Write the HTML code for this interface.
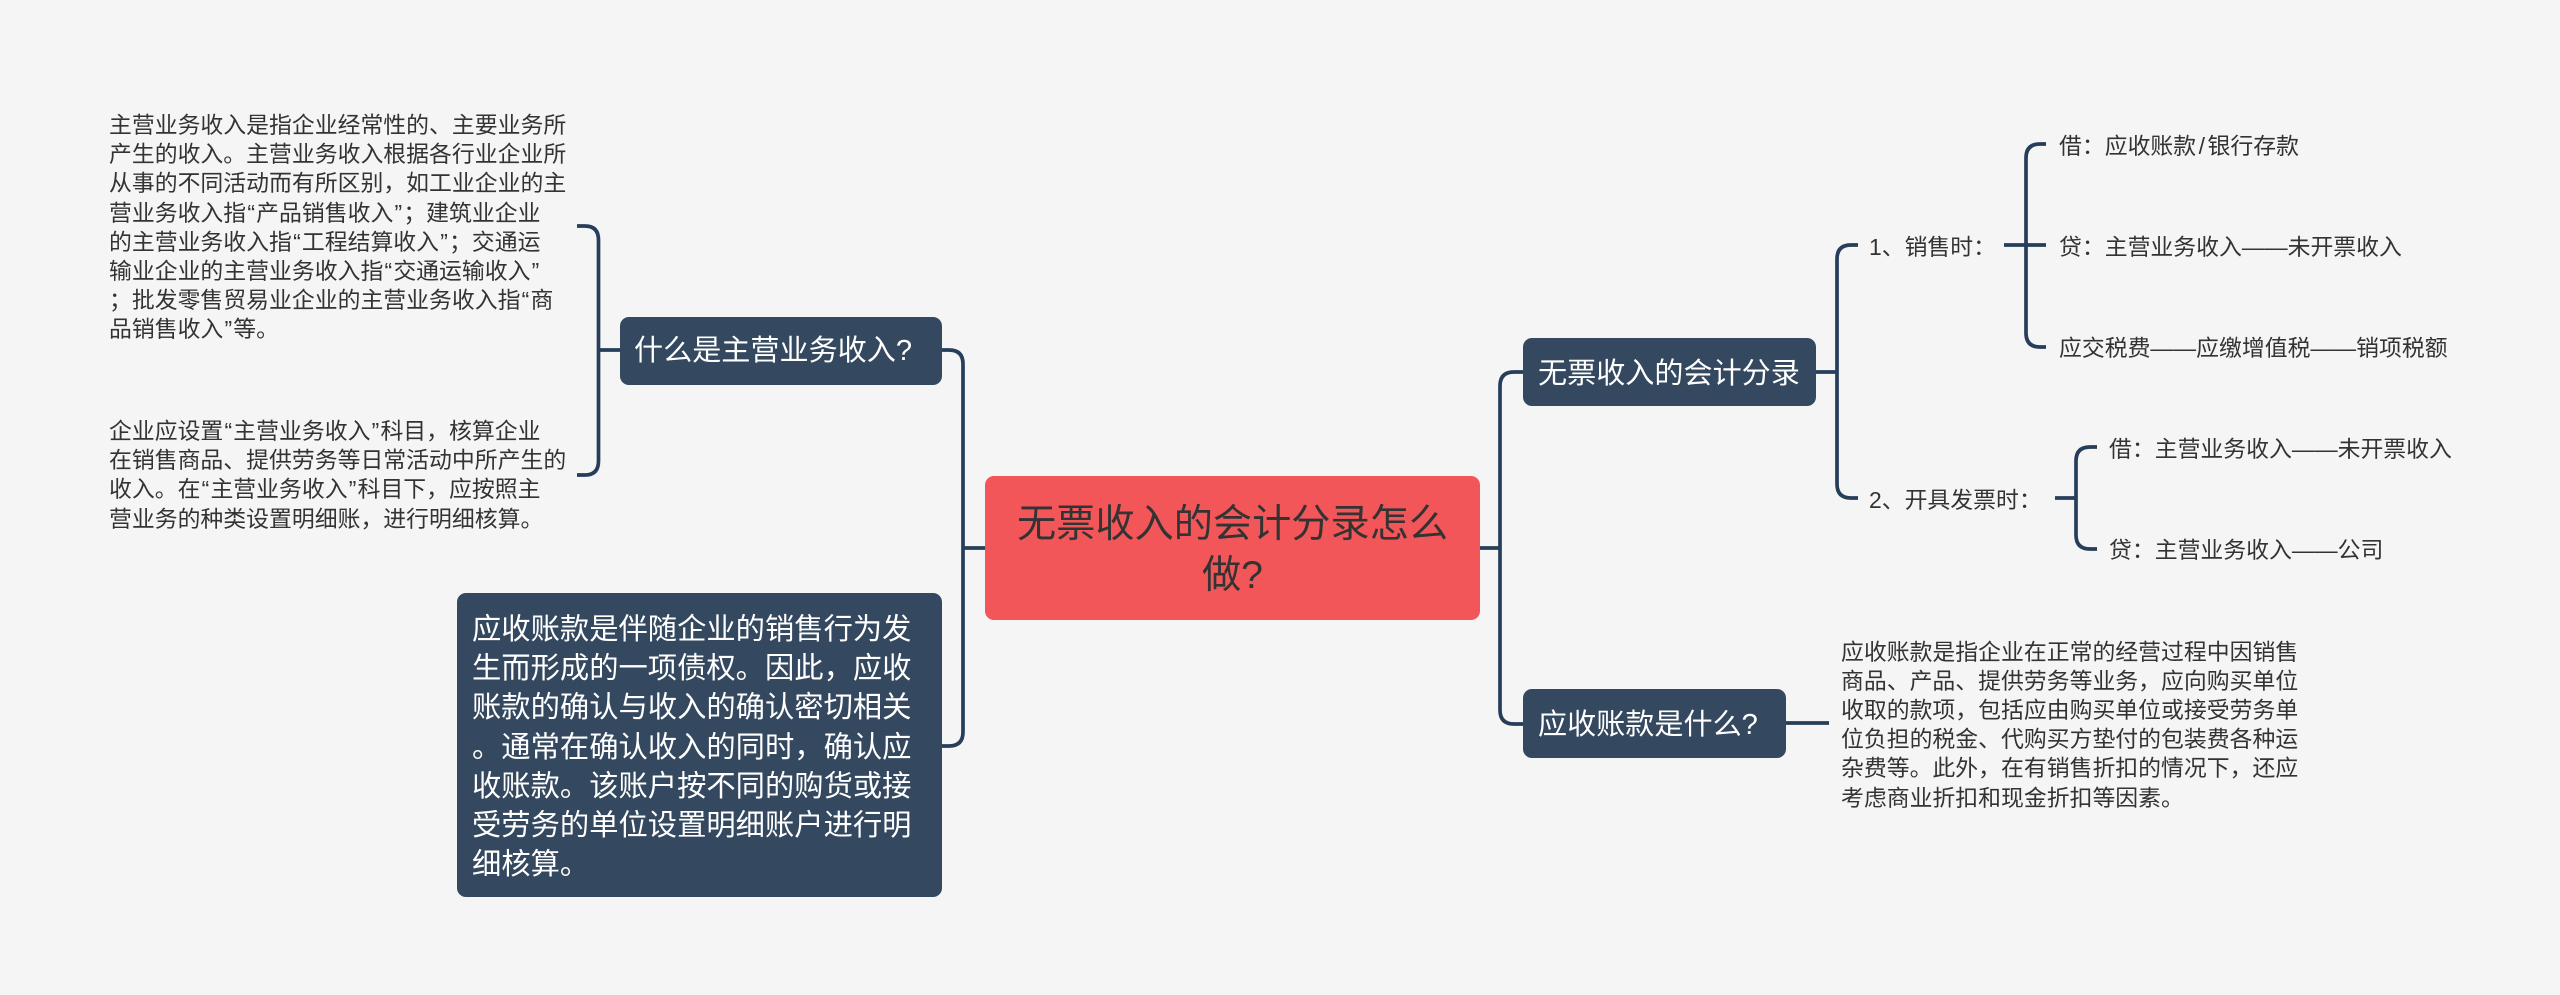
<!DOCTYPE html>
<html lang="zh-CN">
<head>
<meta charset="utf-8">
<style>
html,body{margin:0;padding:0;width:2560px;height:995px;overflow:hidden;background:#f5f5f5}
body{position:relative;font-family:"Liberation Sans","Noto Sans CJK SC",sans-serif}
svg{position:absolute;left:0;top:0}
.b{position:absolute;background:#34485f;border-radius:9px}
.t{position:absolute;white-space:nowrap;color:#333;font-size:22.86px;line-height:29.2px}
.w{color:#fff;font-size:29.3px;line-height:39.2px}
.s{font-size:29.1px}
.c{color:#333;font-size:39.2px;line-height:51px;text-align:center}
.q{font-style:normal;margin:0 1.2px}
.l{font-style:normal;margin:0 2.5px}
</style>
</head>
<body>
<svg width="2560" height="995" fill="none" stroke="#263e5a" stroke-width="3.7">
<path d="M577 226H585Q598.5 226 598.5 240V461Q598.5 475 585 475H577"/>
<path d="M598.5 350H620"/>
<path d="M942 350H949Q963 350 963 364V732Q963 746 949 746H942"/>
<path d="M963 548H985"/>
<path d="M1523 372H1514Q1500 372 1500 386V710Q1500 724 1514 724H1523"/>
<path d="M1480 548H1500"/>
<path d="M1816 372H1837"/>
<path d="M1858 245H1851Q1837 245 1837 259V484Q1837 498 1851 498H1858"/>
<path d="M2046 144H2040Q2026 144 2026 158V333Q2026 347 2040 347H2046"/>
<path d="M2004 245H2046"/>
<path d="M2097 447H2090Q2076 447 2076 461V535Q2076 549 2090 549H2097"/>
<path d="M2055 498H2076"/>
<path d="M1786 723H1829"/>
</svg>

<div class="b" style="left:985px;top:476px;width:495px;height:144px;background:#f25658"></div>
<div class="t c" style="left:985px;top:498.5px;width:495px">无票收入的会计分录怎么<br>做?</div>

<div class="b" style="left:620px;top:317px;width:322px;height:68px"></div>
<div class="t w s" style="left:634px;top:332px">什么是主营业务收入?</div>

<div class="b" style="left:457px;top:593px;width:485px;height:304px"></div>
<div class="t w" style="left:472px;top:610px">应收账款是伴随企业的销售行为发<br>生而形成的一项债权。因此，应收<br>账款的确认与收入的确认密切相关<br>。通常在确认收入的同时，确认应<br>收账款。该账户按不同的购货或接<br>受劳务的单位设置明细账户进行明<br>细核算。</div>

<div class="b" style="left:1523px;top:338px;width:293px;height:68px"></div>
<div class="t w s" style="left:1538px;top:354.5px">无票收入的会计分录</div>

<div class="b" style="left:1523px;top:689px;width:263px;height:69px"></div>
<div class="t w s" style="left:1538px;top:705.5px">应收账款是什么?</div>

<div class="t" style="left:109px;top:111px">主营业务收入是指企业经常性的、主要业务所<br>产生的收入。主营业务收入根据各行业企业所<br>从事的不同活动而有所区别，如工业企业的主<br>营业务收入指<i class="q">“</i>产品销售收入<i class="q">”</i>；建筑业企业<br>的主营业务收入指<i class="q">“</i>工程结算收入<i class="q">”</i>；交通运<br>输业企业的主营业务收入指<i class="q">“</i>交通运输收入<i class="q">”</i><br>；批发零售贸易业企业的主营业务收入指<i class="q">“</i>商<br>品销售收入<i class="q">”</i>等。</div>
<div class="t" style="left:109px;top:417px">企业应设置<i class="q">“</i>主营业务收入<i class="q">”</i>科目，核算企业<br>在销售商品、提供劳务等日常活动中所产生的<br>收入。在<i class="q">“</i>主营业务收入<i class="q">”</i>科目下，应按照主<br>营业务的种类设置明细账，进行明细核算。</div>
<div class="t" style="left:1841px;top:637.5px">应收账款是指企业在正常的经营过程中因销售<br>商品、产品、提供劳务等业务，应向购买单位<br>收取的款项，包括应由购买单位或接受劳务单<br>位负担的税金、代购买方垫付的包装费各种运<br>杂费等。此外，在有销售折扣的情况下，还应<br>考虑商业折扣和现金折扣等因素。</div>

<div class="t" style="left:1869px;top:232.5px">1、销售时：</div>
<div class="t" style="left:1869px;top:485.5px">2、开具发票时：</div>
<div class="t" style="left:2059px;top:131.5px">借：应收账款<i class="l">/</i>银行存款</div>
<div class="t" style="left:2059px;top:232.5px">贷：主营业务收入——未开票收入</div>
<div class="t" style="left:2059px;top:333.5px">应交税费——应缴增值税——销项税额</div>
<div class="t" style="left:2109px;top:434.5px">借：主营业务收入——未开票收入</div>
<div class="t" style="left:2109px;top:535.5px">贷：主营业务收入——公司</div>
</body>
</html>
